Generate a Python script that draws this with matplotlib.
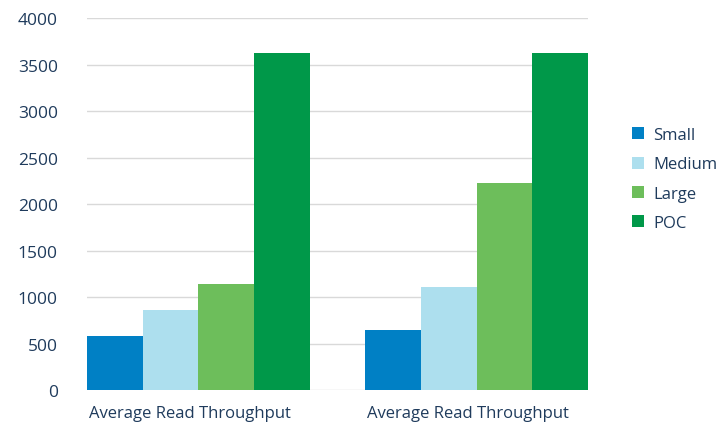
import numpy as np
import matplotlib.pyplot as plt

categories = ['Average Read Throughput', 'Average Read Throughput']
series = ['Small', 'Medium', 'Large', 'POC']
small = [580, 650]
medium = [860, 1110]
large = [1140, 2230]
poc = [3620, 3620]
colors = ['#0080C5', '#ADDFEE', '#6DBE5B', '#009849']
yticks = [0, 500, 1000, 1500, 2000, 2500, 3000, 3500, 4000]

text_color = '#1F3B5C'
plt.rcParams['font.family'] = ['Open Sans', 'DejaVu Sans']

fig = plt.figure(figsize=(7.28, 4.27), dpi=100)
ax = fig.add_axes([0.1195, 0.0843, 0.6882, 0.8712])

x = np.arange(len(categories))
w = 0.2
handles = []
for i, (name, vals) in enumerate(zip(series, [small, medium, large, poc])):
    b = ax.bar(x + (i - 1.5) * w, vals, width=w, color=colors[i], label=name, zorder=2)
    handles.append(b)

ax.set_xlim(-0.4, 1.4)
ax.set_ylim(0, 4000)
ax.set_yticks(yticks)
ax.set_yticklabels([str(v) for v in yticks])
ax.set_xticks(x - 0.03)
ax.set_xticklabels(categories)
ax.tick_params(axis='y', length=0, pad=21, labelsize=12.5, labelcolor=text_color)
ax.tick_params(axis='x', length=0, pad=11, labelsize=12, labelcolor=text_color)
ax.grid(axis='y', color='#D9D9D9', linewidth=1, zorder=0)
for s in ax.spines.values():
    s.set_visible(False)

fig.legend(handles=handles, loc='upper left', bbox_to_anchor=(0.848, 0.735),
           frameon=False, fontsize=12, labelcolor=text_color,
           handlelength=0.72, handleheight=0.72, handletextpad=0.55,
           labelspacing=0.8)

fig.savefig('out.png', dpi=100)
